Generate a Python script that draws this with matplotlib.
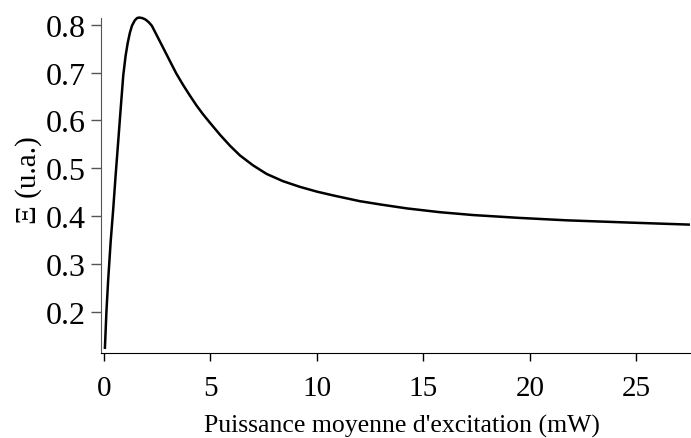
import matplotlib.pyplot as plt

# puissance moyenne (mW) et signal Xi (u.a.)
puissance = [0.047, 0.12, 0.20, 0.32, 0.44, 0.55, 0.67, 0.79, 0.91, 1.02, 1.12, 1.22,
             1.32, 1.45, 1.56, 1.66, 1.80, 1.95, 2.10, 2.25, 2.47, 2.78, 3.10, 3.40,
             3.72, 4.05, 4.35, 4.65, 4.98, 5.45, 5.92, 6.38, 7.00, 7.64, 8.40, 9.20,
             10.0, 10.77, 12.02, 13.0, 14.21, 15.77, 17.34, 19.53, 21.72, 24.85, 27.51]
xi = [0.122, 0.200, 0.265, 0.347, 0.415, 0.484, 0.554, 0.625, 0.694, 0.735, 0.762, 0.783,
      0.798, 0.809, 0.814, 0.815, 0.814, 0.811, 0.8055, 0.798, 0.779, 0.752, 0.724, 0.698,
      0.674, 0.651, 0.631, 0.613, 0.595, 0.570, 0.547, 0.527, 0.506, 0.488, 0.473, 0.461,
      0.451, 0.443, 0.431, 0.424, 0.416, 0.408, 0.402, 0.396, 0.391, 0.386, 0.382]

xticks = [0, 5, 10, 15, 20, 25]
yticks = [0.2, 0.3, 0.4, 0.5, 0.6, 0.7, 0.8]

plt.rcParams['font.family'] = ['Liberation Serif', 'DejaVu Serif']

fig = plt.figure(figsize=(6.91, 4.39), dpi=100)
ax = fig.add_axes([0.146, 0.193, 0.854, 0.763])
ax.plot(puissance, xi, color='black', lw=1.8, clip_on=False,
        solid_joinstyle='round', solid_capstyle='butt')

ax.set_xlim(-0.14, 27.56)
ax.set_ylim(0.113, 0.8134)
ax.set_xticks(xticks)
ax.set_yticks(yticks)
ax.set_yticklabels([f'{v:.1f}' for v in yticks])

ax.spines['top'].set_visible(False)
ax.spines['right'].set_visible(False)
ax.spines['left'].set_color('#555555')
ax.spines['bottom'].set_color('black')
ax.tick_params(axis='x', direction='out', length=6, width=1, labelsize=21, pad=10)
ax.tick_params(axis='y', direction='out', length=7, width=1, labelsize=23, pad=4,
               colors='#555555', labelcolor='black')

ax.set_xlabel("Puissance moyenne d'excitation (mW)", fontsize=18.5)
ax.xaxis.set_label_coords(0.511, -0.18)
ax.set_ylabel('Ξ (u.a.)', fontsize=21)
ax.yaxis.set_label_coords(-0.10, 0.52)

fig.savefig('out.png', dpi=100)
